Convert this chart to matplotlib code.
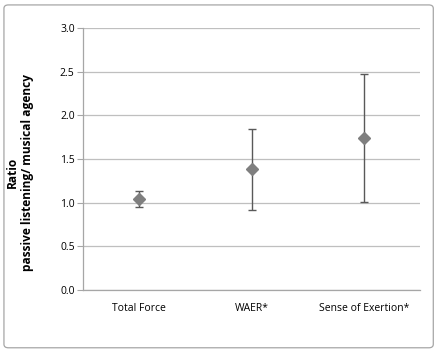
import matplotlib
matplotlib.use("Agg")
import matplotlib.pyplot as plt
from matplotlib.patches import FancyBboxPatch

categories = ["Total Force", "WAER*", "Sense of Exertion*"]
ratio = [1.04, 1.39, 1.74]
err_low = [0.95, 0.92, 1.01]
err_high = [1.13, 1.84, 2.47]

plt.rcParams['font.family'] = ['Open Sans', 'DejaVu Sans']

fig = plt.figure(figsize=(4.39, 3.52), dpi=100)
ax = fig.add_axes([0.189, 0.176, 0.768, 0.744])

# outer chart border
border = FancyBboxPatch((0.009, 0.012), 0.978, 0.974, boxstyle="round,pad=0,rounding_size=0.01",
                        transform=fig.transFigure, facecolor='none', edgecolor='#a6a6a6', lw=0.9)
fig.patches.append(border)

x = list(range(len(categories)))
yerr = [[r - lo for r, lo in zip(ratio, err_low)], [hi - r for r, hi in zip(ratio, err_high)]]
ax.errorbar(x, ratio, yerr=yerr, fmt='D', color='#7f7f7f', ms=6, ecolor='#595959',
            elinewidth=1.0, capsize=3, capthick=1.0, zorder=3)

ax.set_xlim(-0.5, 2.5)
ax.set_ylim(0, 3.0)
ax.set_yticks([0, 0.5, 1.0, 1.5, 2.0, 2.5, 3.0])
ax.set_yticklabels(["0.0", "0.5", "1.0", "1.5", "2.0", "2.5", "3.0"])
ax.set_xticks(x)
ax.set_xticklabels(categories)
ax.yaxis.grid(True, color='#bfbfbf', lw=0.9)
ax.set_axisbelow(True)

for s in ['top', 'right']:
    ax.spines[s].set_visible(False)
for s in ['left', 'bottom']:
    ax.spines[s].set_color('#a6a6a6')
    ax.spines[s].set_linewidth(0.9)

ax.tick_params(axis='y', length=4, color='#a6a6a6', labelsize=7.5, pad=2)
ax.tick_params(axis='x', length=0, labelsize=7.5, pad=9)

# y label placed on the figure, sits a bit below the axes centre like the original
fig.text(0.046, 0.51, "Ratio\npassive listening/ musical agency", rotation=90,
         ha='center', va='center', multialignment='center',
         fontsize=8.6, fontweight='bold', linespacing=1.25)

fig.savefig("out.png", dpi=100)
